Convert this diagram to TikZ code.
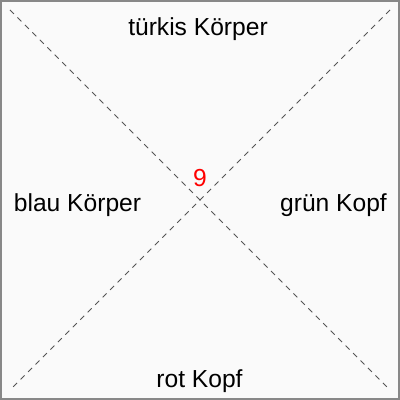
\documentclass[tikz,border=0pt]{standalone}
\usepackage{fontspec}
\setmainfont{Liberation Sans}
\usetikzlibrary{positioning}
\definecolor{framegray}{RGB}{136,136,136}
\definecolor{bggray}{RGB}{250,250,250}
\definecolor{diaggray}{RGB}{85,85,85}
\definecolor{numred}{RGB}{255,0,0}

\begin{document}
\begin{tikzpicture}[
  x=0.025cm, y=-0.025cm,
  label/.style={font=\fontsize{17.5}{21}\selectfont, anchor=base, inner sep=0pt},
  diag/.style={draw=diaggray, line width=0.55pt, dash pattern=on 4pt off 3.5pt}
]
  % Frame
  \useasboundingbox (0,0) rectangle (400,400);
  \draw[framegray, fill=bggray, line width=1.4pt] (1,1) rectangle (399,399);

  % Corners for the diagonals
  \coordinate (tl) at (10,10);
  \coordinate (tr) at (390,10);
  \coordinate (bl) at (10,390);
  \coordinate (br) at (390,390);
  \draw[diag] (tl) -- (br);
  \draw[diag] (tr) -- (bl);

  % Labels
  \node[label] (top) at (198,36) {türkis Körper};
  \node[label] (left) at (77.5,211) {blau Körper};
  \node[label] (right) at (333.5,211) {grün Kopf};
  \node[label] (bottom) at (199.5,387) {rot Kopf};
  \node[label, text=numred] (num) at (200,186.5) {9};
\end{tikzpicture}
\end{document}
